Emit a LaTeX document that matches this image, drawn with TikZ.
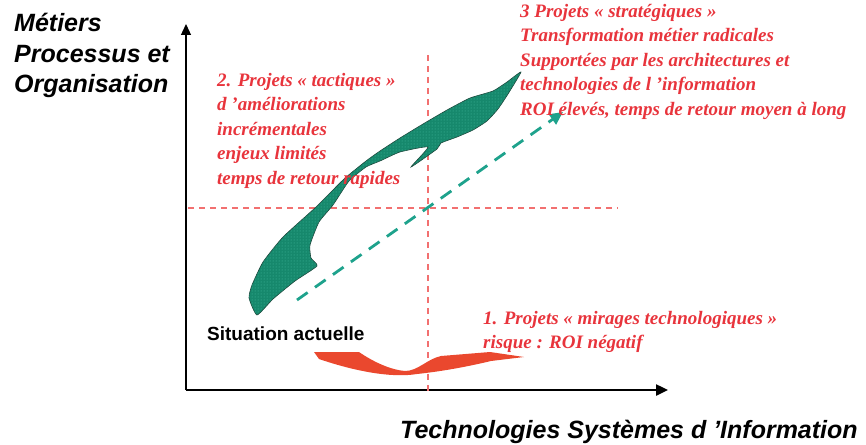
\documentclass[tikz,border=0pt]{standalone}
\usepackage{fontspec}
\newfontfamily\arialf{Liberation Sans}
\newfontfamily\timesf{Liberation Serif}
\usepackage{xcolor}
\usetikzlibrary{arrows.meta,patterns}

\definecolor{rougetxt}{RGB}{232,52,60}
\definecolor{tirets}{RGB}{242,112,112}
\definecolor{vertfonce}{RGB}{22,136,108}
\definecolor{vertbord}{RGB}{28,72,60}
\definecolor{vertpoint}{RGB}{70,190,160}
\definecolor{vertfleche}{RGB}{30,162,140}
\definecolor{mirage}{RGB}{234,72,46}

\begin{document}
\begin{tikzpicture}[x=1pt,y=-1pt,
    projet/.style={anchor=north west,inner sep=0pt,align=left,text=rougetxt,
        font=\timesf\bfseries\itshape\fontsize{19}{24.5}\selectfont},
    axelbl/.style={inner sep=0pt,font=\arialf\bfseries\itshape\fontsize{25}{30.5}\selectfont},
    quadrant/.style={draw=tirets,line width=1.4pt,dash pattern=on 6pt off 5pt}]
    \useasboundingbox (0,0) rectangle (866,444);

    % axes
    \coordinate (O) at (186,390);
    \coordinate (ytop) at (186,24);
    \coordinate (xend) at (668,390);
    \draw[line width=1.3pt,-{Triangle[length=11pt,width=10pt]}] (O) -- (ytop);
    \draw[line width=2.4pt,-{Triangle[length=12pt,width=11pt]}] (O) -- (xend);

    \node[axelbl,anchor=north west,align=left] (metiers) at (14,13) {Métiers\\Processus et\\Organisation};
    \node[axelbl,anchor=base west] (techno) at (400,438) {Technologies Systèmes d ’Information};

    % quadrants
    \coordinate (vhaut) at (428,55);
    \coordinate (vbas) at (428,392);
    \coordinate (hgauche) at (188,208);
    \coordinate (hdroite) at (618,208);
    \draw[quadrant] (vhaut) -- (vbas);
    \draw[quadrant] (hgauche) -- (hdroite);

    % trajectoire tactique puis strategique
    \draw[draw=vertbord,line width=0.6pt,fill=vertfonce,
          postaction={pattern=dots,pattern color=vertpoint}]
        plot[smooth cycle,tension=0.3] coordinates {
        (257,315) (249,298) (252,285) (263,262) (283,237) (316,207) (344,179)
        (366,161) (380,151) (400,138) (423,124) (447,110) (470,98) (493,91)
        (507,82) (521,72) (508,94) (498,109) (487,121) (473,130) (457,137)
        (441,143) (437,149) (411,167) (428,147) (400,152) (380,161) (366,167)
        (349,181) (333,205) (319,222) (310,245) (311,258) (317,266) (295,281)
        (273,299)};

    % mirages
    \fill[mirage] (314,352) -- (359,352) .. controls (375,363) and (392,370) .. (405,371)
        .. controls (418,371) and (427,359) .. (441,356) -- (490,352) -- (524,357)
        -- (491,361) .. controls (470,366) and (445,371) .. (417,374)
        .. controls (393,378) and (357,372) .. (319,359) -- cycle;

    % rattrapage direct
    \coordinate (depart) at (297,300);
    \coordinate (cible) at (563,112);
    \draw[vertfleche,line width=2.8pt,dash pattern=on 13pt off 9pt,
          -{Triangle[length=13pt,width=12pt]}] (depart) -- (cible);

    \node[inner sep=0pt,anchor=base west,font=\arialf\bfseries\fontsize{19}{22}\selectfont] (actuelle) at (207,340) {Situation actuelle};

    \node[projet] (tactiques) at (217,73) {2. Projets « tactiques »\\d ’améliorations\\incrémentales\\enjeux limités\\temps de retour rapides};
    \node[projet] (strategiques) at (520,4) {3 Projets « stratégiques »\\Transformation métier radicales\\Supportées par les architectures et\\technologies de l ’information\\ROI élevés, temps de retour moyen à long};
    \node[projet] (mirages) at (483,311) {1. Projets « mirages technologiques »\\risque : ROI négatif};
\end{tikzpicture}
\end{document}
